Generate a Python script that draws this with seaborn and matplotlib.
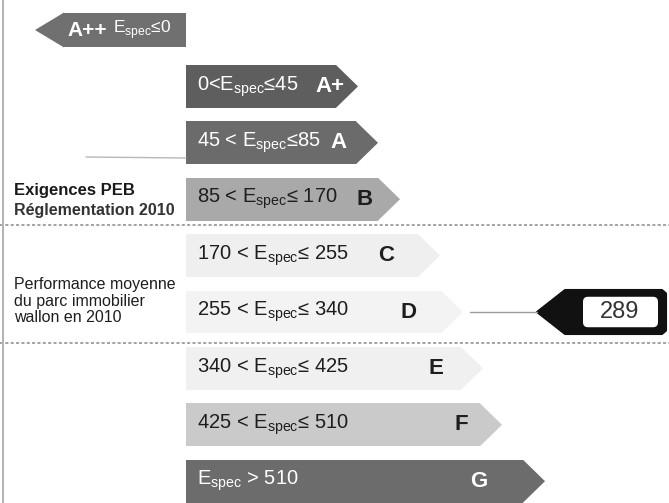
import matplotlib
matplotlib.use("Agg")
import matplotlib.pyplot as plt
from matplotlib.patches import Polygon, FancyBboxPatch
import seaborn as sns
import pandas as pd

# classes PEB
classes = ["A++", "A+", "A", "B", "C", "D", "E", "F", "G"]
intervalles = [r"E$_\mathregular{spec}$≤0",
               r"0<E$_\mathregular{spec}$≤45",
               r"45 < E$_\mathregular{spec}$≤85",
               r"85 < E$_\mathregular{spec}$≤ 170",
               r"170 < E$_\mathregular{spec}$≤ 255",
               r"255 < E$_\mathregular{spec}$≤ 340",
               r"340 < E$_\mathregular{spec}$≤ 425",
               r"425 < E$_\mathregular{spec}$≤ 510",
               r"E$_\mathregular{spec}$ > 510"]
longueurs = [-122, 150, 170, 192, 232, 255, 275, 294, 337]
couleurs = ["#707070", "#5e5e5e", "#6b6b6b", "#a9a9a9", "#efefef",
            "#f3f3f3", "#f0f0f0", "#cacaca", "#6c6c6c"]
pos_lettre = [0, 129, 144, 171, 192, 214, 242, 269, 284]
valeur_moyenne = 289

sns.set_theme(style="white")
plt.rcParams["font.family"] = ["Liberation Sans", "DejaVu Sans"]

df = pd.DataFrame({"classe": classes, "longueur": longueurs})

fig = plt.figure(figsize=(6.69, 5.03), dpi=100)
ax = fig.add_axes([0, 0, 1, 1])
sns.barplot(data=df, y="classe", x="longueur", hue="classe", palette=couleurs,
            orient="h", width=0.76, legend=False, ax=ax, saturation=1)

step = 56.4
ax.set_xlim(-186, 483)
ax.set_ylim((503 - 30) / step, -30 / step)
ax.axis("off")

# pointes des fleches
for i, p in enumerate(ax.patches[:len(classes)]):
    p.set_edgecolor("none")
    y0, h = p.get_y(), p.get_height()
    if i == 0:
        p.set_y(y0 + 0.07)
        p.set_height(h - 0.14)
        y0, h = p.get_y(), p.get_height()
        x = p.get_x() + p.get_width()
        tip = [(x, y0), (x - 29, y0 + h / 2), (x, y0 + h)]
    else:
        x = p.get_x() + p.get_width()
        tip = [(x, y0), (x + 22, y0 + h / 2), (x, y0 + h)]
    ax.add_patch(Polygon(tip, closed=True, fc=couleurs[i], ec="none"))

# textes des classes
for i, c in enumerate(classes):
    clair = i in (0, 1, 2, 8)
    tc = "white" if clair else "#1e1e1e"
    if i == 0:
        ax.text(-119, i, "A++", color=tc, fontsize=15, fontweight="bold",
                va="center", ha="left")
        ax.text(-73, i, intervalles[i], color=tc, fontsize=12.5, va="center", ha="left")
    else:
        ax.text(11, i, intervalles[i], color=tc, fontsize=14.5, va="center", ha="left")
        ax.text(pos_lettre[i], i, c, color=tc, fontsize=16, fontweight="bold",
                va="center", ha="left")

# lignes pointillees
for yy in [(225 - 30) / step, (343 - 30) / step]:
    ax.plot([-186, 483], [yy, yy], ls=(0, (2, 1.5)), color="#8a8a8a", lw=1.1)
ax.plot([-183.5, -183.5], [-1, 9], color="#b5b5b5", lw=1.5)
ax.plot([-100, 0], [(157 - 30) / step, (158 - 30) / step], color="#b8b8b8", lw=1)

# textes a gauche
ax.text(-172, (190 - 30) / step, "Exigences PEB", fontsize=12, fontweight="bold",
        color="#1a1a1a", va="center")
ax.text(-172, (210 - 30) / step, "Réglementation 2010", fontsize=11.5, fontweight="bold",
        color="#333333", va="center")
for k, t in enumerate(["Performance moyenne", "du parc immobilier", "wallon en 2010"]):
    ax.text(-172, (285 - 30 + 16 * k) / step, t, fontsize=11.5, color="#1e1e1e",
            va="center")

# repere de la valeur moyenne
yd = 5
ax.plot([284, 351], [yd, yd], color="#9a9a9a", lw=1)
h = 0.39
mark = [(351, yd), (379, yd - h), (476, yd - h), (480, yd - h + 0.06),
        (480, yd + h - 0.06), (476, yd + h), (379, yd + h)]
ax.add_patch(Polygon(mark, closed=True, fc="#111111", ec="#111111", lw=1.5,
                     joinstyle="round"))
ax.add_patch(FancyBboxPatch((397, yd - 0.27), 75, 0.54,
                            boxstyle="round,pad=0,rounding_size=5",
                            fc="white", ec="none", mutation_aspect=1 / step))
ax.text(434, yd, str(valeur_moyenne), fontsize=17, color="#333333",
        va="center", ha="center")

fig.savefig("out.png", dpi=100)
